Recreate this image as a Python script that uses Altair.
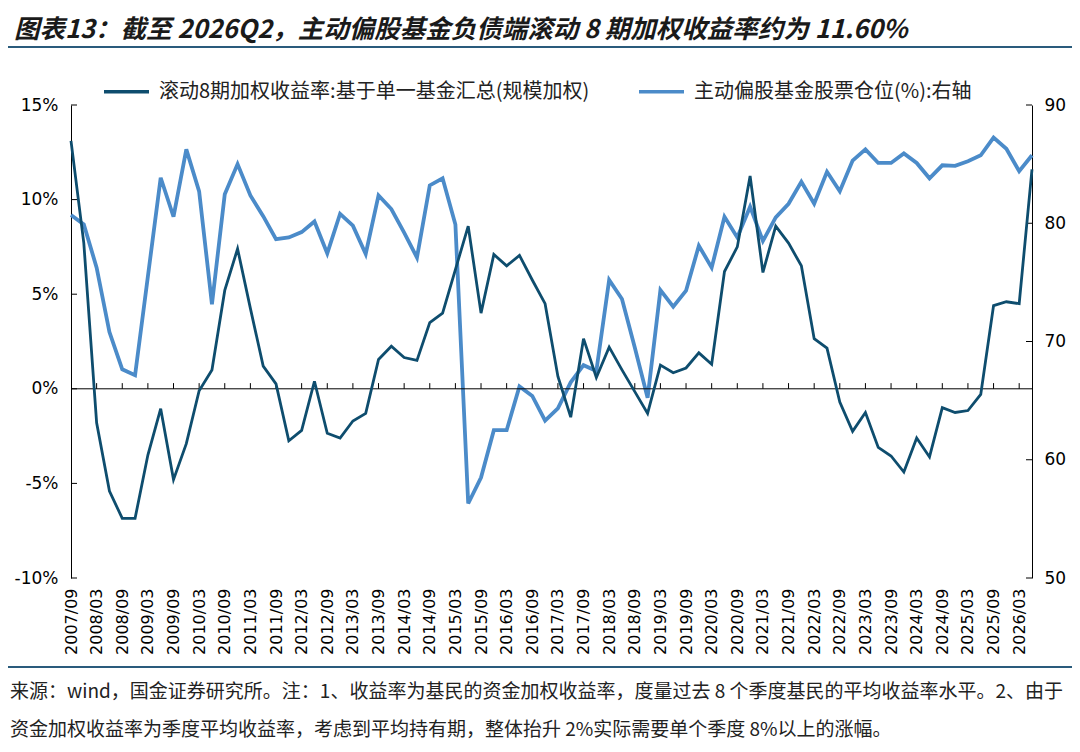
import altair as alt
import pandas as pd

TITLE = "图表13：截至 2026Q2，主动偏股基金负债端滚动 8 期加权收益率约为 11.60%"
NOTE1 = "来源：wind，国金证券研究所。注：1、收益率为基民的资金加权收益率，度量过去 8 个季度基民的平均收益率水平。2、由于"
NOTE2 = "资金加权收益率为季度平均收益率，考虑到平均持有期，整体抬升 2%实际需要单个季度 8%以上的涨幅。"

SERIES = ["滚动8期加权收益率:基于单一基金汇总(规模加权)", "主动偏股基金股票仓位(%):右轴"]

QUARTERS = []
for yr in range(2007, 2027):
    for mo in ["03", "06", "09", "12"]:
        QUARTERS.append(f"{yr}/{mo}")
QUARTERS = QUARTERS[QUARTERS.index("2007/09"):QUARTERS.index("2026/06") + 1]
LABELS = QUARTERS[::2]

# left axis, %
RET = [13.1, 7.7, -1.8, -5.4, -6.85, -6.85, -3.5, -1.05, -4.8, -2.9,
       -0.1, 1.0, 5.2, 7.4, 4.25, 1.2, 0.26, -2.75, -2.2, 0.4,
       -2.35, -2.6, -1.7, -1.3, 1.55, 2.25, 1.65, 1.5, 3.5, 4.0,
       6.3, 8.6, 4.0, 7.1, 6.5, 7.05, 5.75, 4.5, 0.65, -1.5,
       2.65, 0.6, 2.2, 1.0, -0.15, -1.3, 1.25, 0.85, 1.1, 1.9,
       1.3, 6.2, 7.5, 11.25, 6.15, 8.6, 7.7, 6.5, 2.65, 2.15,
       -0.7, -2.25, -1.25, -3.1, -3.55, -4.4, -2.6, -3.6, -1.0, -1.25,
       -1.15, -0.3, 4.4, 4.6, 4.5, 11.6]
# right axis
POS = [80.7, 79.9, 76.25, 70.8, 67.65, 67.15, 75.5, 83.85, 80.55, 86.25,
       82.7, 73.15, 82.45, 85.0, 82.35, 80.6, 78.65, 78.8, 79.25, 80.15,
       77.45, 80.8, 79.8, 77.4, 82.35, 81.2, 79.2, 77.1, 83.2, 83.8,
       79.9, 56.3, 58.5, 62.5, 62.5, 66.2, 65.4, 63.3, 64.35, 66.55,
       68.0, 67.5, 75.2, 73.6, 69.5, 65.25, 74.35, 72.95, 74.3, 78.1,
       76.25, 80.55, 78.8, 81.4, 78.5, 80.5, 81.65, 83.5, 81.65, 84.35,
       82.7, 85.3, 86.25, 85.1, 85.1, 85.9, 85.1, 83.8, 84.9, 84.85,
       85.25, 85.75, 87.25, 86.3, 84.4, 85.75]

LEFT_TICKS = [-10, -5, 0, 5, 10, 15]
RIGHT_TICKS = [50, 60, 70, 80, 90]

DARK = "#0e4d6e"
LIGHT = "#4b8bc9"
CJK = "Noto Sans CJK SC"
NUM = "DejaVu Sans"
W, H = 961, 473

df_ret = pd.DataFrame({"q": QUARTERS, "v": RET, "s": SERIES[0]})
df_pos = pd.DataFrame({"q": QUARTERS, "v": POS, "s": SERIES[1]})

xscale = alt.Scale(type="point", domain=QUARTERS, padding=0)
x_axis = alt.Axis(title=None, values=LABELS, labelAngle=270, labelFont=NUM,
                  labelFontSize=16, labelColor="#000", labelPadding=10,
                  domain=False, ticks=False, grid=False, labelOverlap=False)

lscale = alt.Scale(domain=[-10, 15], nice=False, zero=False)
l_axis = alt.Axis(title=None, values=LEFT_TICKS, labelExpr="datum.value + '%'",
                  orient="left", ticks=False, grid=False, domainColor="#000",
                  domainWidth=1, labelFont=NUM, labelFontSize=17,
                  labelColor="#000", labelPadding=13)
rscale = alt.Scale(domain=[50, 90], nice=False, zero=False)
r_axis = alt.Axis(title=None, values=RIGHT_TICKS, orient="right", ticks=False,
                  grid=False, domainColor="#000", domainWidth=1, labelFont=NUM,
                  labelFontSize=17, labelColor="#000", labelPadding=12)

color = alt.Color("s:N", scale=alt.Scale(domain=SERIES, range=[DARK, LIGHT]),
                  legend=alt.Legend(title=None, orient="none", legendX=31, legendY=-38,
                                    direction="horizontal", symbolType="stroke",
                                    symbolSize=2025, symbolStrokeWidth=3.5,
                                    labelFont=CJK, labelFontSize=20, labelColor="#222",
                                    labelLimit=0, columnPadding=42, labelOffset=8,
                                    padding=0))

dark_line = alt.Chart(df_ret).mark_line(strokeWidth=2.8).encode(
    x=alt.X("q:O", scale=xscale, axis=x_axis),
    y=alt.Y("v:Q", scale=lscale, axis=l_axis),
    color=color)

light_line = alt.Chart(df_pos).mark_line(strokeWidth=3.8).encode(
    x=alt.X("q:O", scale=xscale, axis=x_axis),
    y=alt.Y("v:Q", scale=rscale, axis=r_axis),
    color=color)

zero_rule = alt.Chart(pd.DataFrame({"v": [0]})).mark_rule(color="#000", strokeWidth=1).encode(
    y=alt.Y("v:Q", scale=lscale, axis=l_axis))

zero_ticks = alt.Chart(pd.DataFrame({"q": LABELS[1:], "v": 0.0, "v2": 0.3})).mark_rule(
    color="#000", strokeWidth=1).encode(
    x=alt.X("q:O", scale=xscale, axis=x_axis),
    y=alt.Y("v:Q", scale=lscale, axis=l_axis),
    y2="v2:Q")

left_ticks = alt.Chart(pd.DataFrame({"v": LEFT_TICKS})).mark_rule(color="#000", strokeWidth=1).encode(
    x=alt.value(0), x2=alt.value(6),
    y=alt.Y("v:Q", scale=lscale, axis=l_axis))

right_ticks = alt.Chart(pd.DataFrame({"v": RIGHT_TICKS})).mark_rule(color="#000", strokeWidth=1).encode(
    x=alt.value(W - 6), x2=alt.value(W),
    y=alt.Y("v:Q", scale=rscale, axis=r_axis))

def text_layer(txt, x, y, size, baseline="middle", **kw):
    return alt.Chart(pd.DataFrame({"t": [txt]})).mark_text(
        align="left", baseline=baseline, font=CJK, fontSize=size, **kw).encode(
        x=alt.value(x), y=alt.value(y), text="t:N")

title_t = text_layer(TITLE, -57, -67, 25.5, baseline="alphabetic",
                     fontWeight="bold", fontStyle="italic", color="#1a1a1a")
note1 = text_layer(NOTE1, -61, 587, 19, color="#222")
note2 = text_layer(NOTE2, -61, 625, 19, color="#222")

sep_df = pd.DataFrame({"k": [0]})
sep_top = alt.Chart(sep_df).mark_rule(color="#2a5b7c", strokeWidth=2).encode(
    x=alt.value(-66), x2=alt.value(1006), y=alt.value(-58))
sep_bot = alt.Chart(sep_df).mark_rule(color="#2a5b7c", strokeWidth=2).encode(
    x=alt.value(-66), x2=alt.value(1006), y=alt.value(562))

left = alt.layer(zero_rule, zero_ticks, left_ticks, dark_line)
right = alt.layer(light_line, right_ticks)

chart = alt.layer(right, left, title_t, note1, note2, sep_top, sep_bot).resolve_scale(
    y="independent"
).properties(
    width=W, height=H,
    padding={"left": 63, "top": 97, "right": 40, "bottom": 166},
    autosize=alt.AutoSizeParams(type="none"),
).configure_view(strokeWidth=0)

chart.save("out.html", embed_options={"renderer": "svg", "actions": False})
